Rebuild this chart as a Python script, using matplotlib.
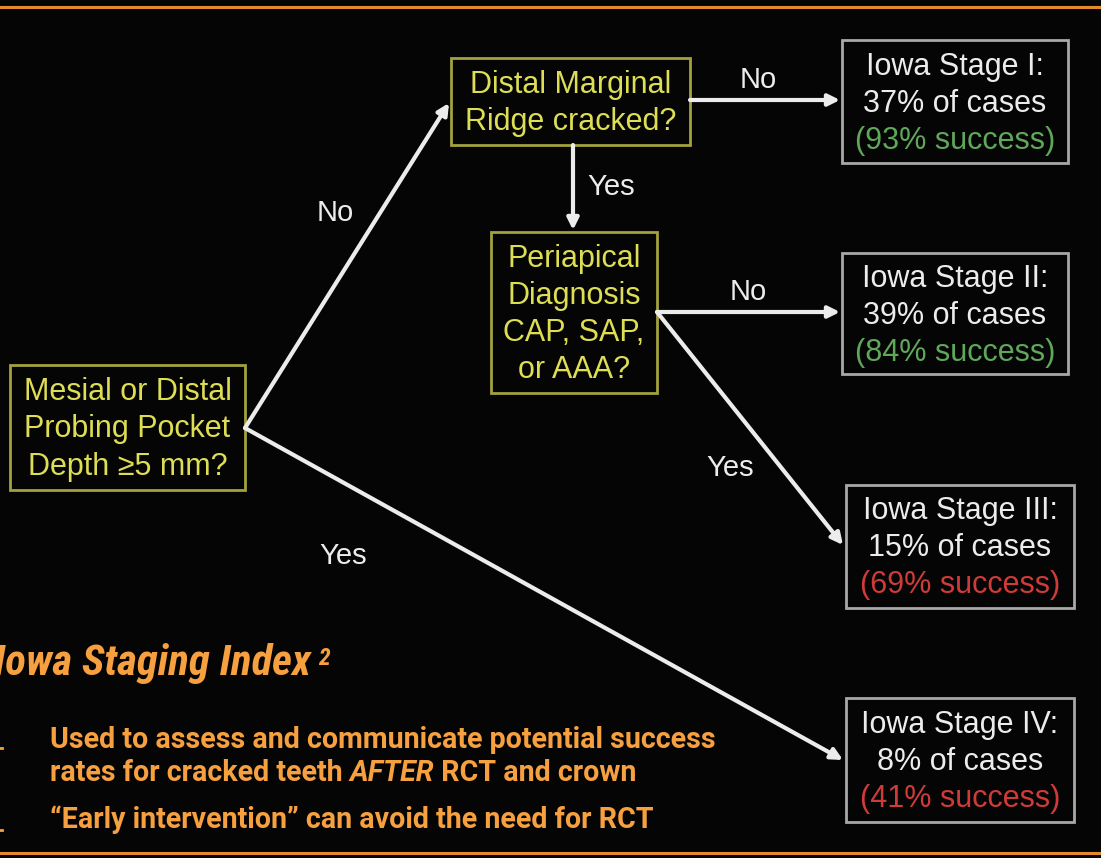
"""Iowa Staging Index flowchart for cracked teeth (after RCT and crown)."""
import matplotlib
matplotlib.use("Agg")
import matplotlib.pyplot as plt
from matplotlib.patches import Rectangle

# ---- content ----
QUESTIONS = [
    ["Mesial or Distal", "Probing Pocket", "Depth ≥5 mm?"],
    ["Distal Marginal", "Ridge cracked?"],
    ["Periapical", "Diagnosis", "CAP, SAP,", "or AAA?"],
]
STAGES = ["I", "II", "III", "IV"]
CASE_PCT = [37, 39, 15, 8]
SUCCESS_PCT = [93, 84, 69, 41]
EDGE_LABELS = ["No", "Yes", "No", "Yes", "No", "Yes"]
TITLE = "Iowa Staging Index"
BULLETS = [
    ["Used to assess and communicate potential success",
     "rates for cracked teeth ", "AFTER", " RCT and crown"],
    ["\u201cEarly intervention\u201d can avoid the need for RCT"],
]

# ---- style ----
BG = "#050505"
YELLOW = "#dede55"
YELLOW_EDGE = "#a3a23c"
GREY_EDGE = "#a8a8a8"
WHITE = "#ececec"
GREEN = "#5fa85a"
RED = "#cf3b38"
ORANGE = "#f7a040"
ORANGE_LINE = "#e58a2c"
FLOW_FONT = ["Liberation Sans", "DejaVu Sans"]
TITLE_FONT = ["Roboto Condensed", "Roboto", "DejaVu Sans"]
BULLET_FONT = ["Roboto", "DejaVu Sans"]
FS = 22
LINE = 37  # px between text lines in the boxes

# boxes in pixel coords (x0, y0, x1, y1), y downward
Q_BOX = [(10, 365, 245, 490), (451, 58, 690, 145), (491, 232, 657, 393)]
S_BOX = [(842, 40, 1068, 163), (842, 253, 1068, 374),
         (846, 485, 1074, 608), (846, 698, 1074, 822)]


def box(ax, b, edge):
    x0, y0, x1, y1 = b
    ax.add_patch(Rectangle((x0, y0), x1 - x0, y1 - y0, fill=False,
                           edgecolor=edge, lw=2, zorder=2))


def lines(ax, b, texts, colors):
    cx = (b[0] + b[2]) / 2
    cy = (b[1] + b[3]) / 2 + 2
    n = len(texts)
    for k, (s, c) in enumerate(zip(texts, colors)):
        ax.text(cx, cy + (k - (n - 1) / 2) * LINE, s, color=c, fontsize=FS,
                family=FLOW_FONT, ha="center", va="center", zorder=4)


def arrow(ax, p0, p1):
    ax.annotate("", xy=p1, xytext=p0,
                arrowprops=dict(arrowstyle="-|>", color=WHITE, lw=3.0,
                                mutation_scale=17, shrinkA=0, shrinkB=0),
                zorder=3)


def main():
    fig = plt.figure(figsize=(11.01, 8.58), dpi=100, facecolor=BG)
    ax = fig.add_axes([0, 0, 1, 1])
    ax.set_facecolor(BG)
    ax.set_xlim(0, 1101)
    ax.set_ylim(858, 0)
    ax.axis("off")

    # orange rules top/bottom
    ax.plot([0, 1101], [7, 7], color=ORANGE_LINE, lw=2.2)
    ax.plot([0, 1101], [853, 853], color=ORANGE_LINE, lw=2.2)

    # question boxes
    for q, b in zip(QUESTIONS, Q_BOX):
        box(ax, b, YELLOW_EDGE)
        lines(ax, b, q, [YELLOW] * len(q))

    # stage boxes
    for i, b in enumerate(S_BOX):
        box(ax, b, GREY_EDGE)
        lines(ax, b, [f"Iowa Stage {STAGES[i]}:", f"{CASE_PCT[i]}% of cases",
                      f"({SUCCESS_PCT[i]}% success)"],
              [WHITE, WHITE, GREEN if SUCCESS_PCT[i] >= 80 else RED])

    # arrows
    arrow(ax, (245, 428), (449, 103))
    arrow(ax, (245, 428), (843, 760))
    arrow(ax, (690, 100), (840, 100))
    arrow(ax, (573, 145), (573, 230))
    arrow(ax, (657, 312), (840, 312))
    arrow(ax, (657, 312), (843, 545))

    # edge labels
    for lbl, (x, y) in zip(EDGE_LABELS, [(335, 213), (343, 556), (758, 80),
                                         (611, 187), (748, 292), (730, 468)]):
        ax.text(x, y, lbl, color=WHITE, fontsize=FS - 1, family=FLOW_FONT,
                ha="center", va="center")

    # slide title
    t = ax.text(-6, 663, TITLE, color=ORANGE, fontsize=31, family=TITLE_FONT,
                fontweight="bold", fontstyle="italic", ha="left", va="center")
    ax.annotate("2", xy=(1, 1), xycoords=t, xytext=(5, -3),
                textcoords="offset points", color=ORANGE, fontsize=17,
                family=TITLE_FONT, fontweight="bold", fontstyle="italic",
                ha="left", va="top")

    # bullets
    kw = dict(color=ORANGE, fontsize=20.6, family=BULLET_FONT, fontweight="bold",
              va="center")
    ax.text(50, 740, BULLETS[0][0], ha="left", **kw)
    t1 = ax.text(50, 773, BULLETS[0][1], ha="left", **kw)
    t2 = ax.annotate(BULLETS[0][2], xy=(1, 0.5), xycoords=t1, ha="left",
                     fontstyle="italic", **kw)
    ax.annotate(BULLETS[0][3], xy=(1, 0.5), xycoords=t2, ha="left", **kw)
    ax.text(50, 820, BULLETS[1][0], ha="left", **kw)
    # clipped bullet markers at left edge
    for y in (748, 830):
        ax.plot([0, 2], [y, y], color=ORANGE, lw=2)

    fig.savefig("out.png", dpi=100, facecolor=BG)
    plt.close(fig)


if __name__ == "__main__":
    main()
